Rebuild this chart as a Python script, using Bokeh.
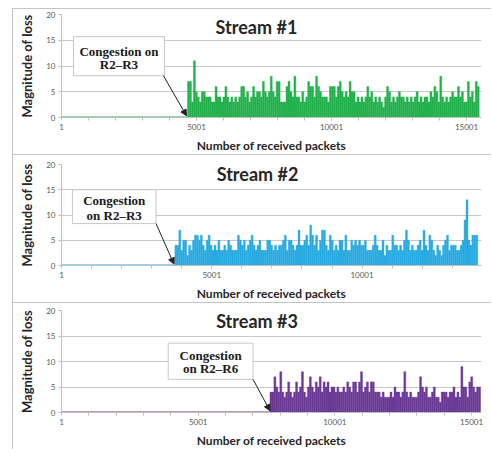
from bokeh.plotting import figure
from bokeh.layouts import column
from bokeh.models import FixedTicker, BoxAnnotation, Arrow, NormalHead, Label, Range1d, ColumnDataSource
from bokeh.embed import file_html
from bokeh.resources import INLINE

# ---------------- data ----------------
titles = ["Stream #1", "Stream #2", "Stream #3"]
callouts = [["Congestion on", "R2\u2013R3"], ["Congestion", "on R2\u2013R3"], ["Congestion", "on R2\u2013R6"]]
colors = ["#23B14D", "#29AAE1", "#6B3A96"]

# congestion onset (packet number) and packets per bar
s1_start, s1_bin = 4667, 73
s2_start, s2_bin = 3775, 65
s3_start, s3_bin = 7628, 72

s1_vals = [7,7,3,11,5,4,3,5,5,4, 4,4,3,3,6,4,4,3,4,6, 4,3,4,3,4,3,4,6,6,4, 5,3,4,6,4,5,5,4,7,5,
           4,5,8,5,4,7,7,3,3,3, 6,7,5,4,8,4,4,3,5,3, 4,7,6,6,4,8,6,5,4,4, 4,3,6,
           6,6,4,6,7,5,4,5,4,7, 5,5,3,4,3,4,3,4,6,4, 5,3,4,3,4,3,2,4,6,5, 3,4,3,4,5,4,4,3,4,3,
           4,3,4,5,3,4,3,4,4,3, 5,4,6,5,3,8,4,3,4,3, 4,5,4,4,6,4,5,3,3,7, 4,5,3,7,6]
s2_vals = [4,4,7,3,5,5,2,4,3,5, 6,6,5,6,4,3,5,6,4,3, 4,3,5,3,3,4,3,5,4,3, 3,3,6,5,4,5,3,4,5,6,
           4,3,4,5,3,3,3,5,5,4, 3,4,3,4,4,5,6,3,5,5, 4,3,4,7,4,4,5,6,4,8, 6,4,6,3,5,7,
           7,4,3,6,5,3,4,3,5,5, 3,6,3,3,5,4,5,4,5,4, 4,5,3,3,3,4,6,4,3,3, 5,2,4,3,3,6,4,4,3,4,
           3,5,7,5,3,4,3,3,4,5, 3,7,4,3,6,5,3,2,4,3, 2,4,5,6,3,4,4,4,3,3, 4,5,9,13,5,4,6,6,6]
s3_vals = [4,4,7,5,4,8,4,3,4,6, 4,3,4,6,4,5,8,4,3,5, 7,5,4,6,5,7,4,6,5,6, 4,5,5,4,5,4,4,5,4,6,
           5,4,6,6,4,6,8,4,5,6, 4,6,
           6,4,4,4,3,4,3,3,3,4, 3,5,4,4,3,4,8,4,3,4, 3,3,3,4,7,5,4,5,3,3, 4,5,3,3,2,4,4,4,3,4,
           4,5,3,4,3,9,5,5,3,6, 7,5,4,5,5]

x_ends = [15556, 13975, 15366]
y_ticks = [0, 5, 10, 15, 20]
x_label_ticks = [1, 5001, 10001, 15001]

# ---------------- layout params ----------------
panels = [
    dict(vals=s1_vals, start=s1_start, bin=s1_bin, h=146, top=5, bottom=35, left=48,
         title=(7222, 17.5), box=(445, 3815, 8.1, 15.7), txt=(2130, 12.8, 10.3),
         arrow=(3778, 8.1, 4630, 0.35)),
    dict(vals=s2_vals, start=s2_start, bin=s2_bin, h=148, top=9, bottom=31, left=46,
         title=(6523, 18.1), box=(365, 3146, 8.3, 15.0), txt=(1755, 12.9, 9.9),
         arrow=(3146, 8.3, 3742, 0.3)),
    dict(vals=s3_vals, start=s3_start, bin=s3_bin, h=147, top=7, bottom=33, left=47,
         title=(7153, 17.9), box=(3905, 7007, 6.5, 13.6), txt=(5456, 11.2, 8.6),
         arrow=(7007, 6.5, 7628, 0.35)),
]

figs = []
for i, cfg in enumerate(panels):
    p = figure(width=479, height=cfg["h"], output_backend="svg", toolbar_location=None,
               x_range=Range1d(1, x_ends[i]), y_range=Range1d(0, 20),
               min_border_left=cfg["left"], min_border_right=11,
               min_border_top=cfg["top"], min_border_bottom=cfg["bottom"],
               outline_line_color=None, background_fill_color="white", border_fill_color="white")
    p.styles = {"border-left": "1px solid #c4c4c4", "border-top": "1px solid #c4c4c4"}
    vals = cfg["vals"]
    xs = [cfg["start"] + (k + 0.5) * cfg["bin"] for k in range(len(vals))]
    src = ColumnDataSource(dict(x=xs, top=vals))
    # zero line before congestion
    p.line([1, cfg["start"]], [0, 0], line_color=colors[i], line_width=2)
    p.vbar(x="x", top="top", width=cfg["bin"], source=src, fill_color=colors[i],
           line_color=colors[i], line_width=0.4)

    # axes
    ticks = list(range(1, x_ends[i] + 1, 1000))
    p.xaxis.ticker = FixedTicker(ticks=ticks)
    p.xaxis.major_label_overrides = {t: (str(t) if t in x_label_ticks else "") for t in ticks}
    yt = FixedTicker(ticks=y_ticks)
    p.yaxis.ticker = yt
    p.ygrid.ticker = yt
    for ax in (p.xaxis[0], p.yaxis[0]):
        ax.axis_line_color = "#bfbfbf"
        ax.major_tick_line_color = "#bfbfbf"
        ax.major_tick_out = 3
        ax.major_tick_in = 0
        ax.minor_tick_line_color = None
        ax.major_label_text_font = "Lato"
        ax.major_label_text_font_size = "8px"
        ax.major_label_text_color = "#595959"
        ax.major_label_standoff = 3
        ax.axis_label_text_font = "Lato"
        ax.axis_label_text_font_style = "bold"
        ax.axis_label_text_color = "#262626"
    p.xaxis.axis_label = "Number of received packets"
    p.xaxis.axis_label_text_font_size = "12px"
    p.xaxis.axis_label_standoff = 5
    p.yaxis.axis_label = "Magnitude of loss"
    p.yaxis.axis_label_text_font_size = "13px"
    p.yaxis.axis_label_standoff = 8
    p.xgrid.grid_line_color = None
    p.ygrid.grid_line_color = "#c8c8c8"
    p.ygrid.grid_line_width = 1

    # title
    p.add_layout(Label(x=cfg["title"][0], y=cfg["title"][1], text=titles[i], text_font="Lato",
                       text_font_style="bold", text_font_size="18px", text_color="#262626",
                       text_align="center", text_baseline="middle"))
    # callout
    l, r, b, t = cfg["box"]
    p.add_layout(BoxAnnotation(left=l, right=r, bottom=b, top=t, fill_color="white", fill_alpha=1,
                               line_color="#c8c8c8", line_width=1, line_alpha=1))
    tx, ty1, ty2 = cfg["txt"]
    for txt, ty in zip(callouts[i], (ty1, ty2)):
        p.add_layout(Label(x=tx, y=ty, text=txt, text_font="Liberation Serif", text_font_style="bold",
                           text_font_size="13px", text_color="#1a1a1a",
                           text_align="center", text_baseline="middle"))
    x0, y0, x1, y1 = cfg["arrow"]
    p.add_layout(Arrow(x_start=x0, y_start=y0, x_end=x1, y_end=y1, line_color="#222222", line_width=1,
                       end=NormalHead(size=6, fill_color="#222222", line_color="#222222")))
    figs.append(p)

layout = column(*figs, spacing=0)
layout.margin = (8, 0, 0, 12)

open("out.html", "w").write(file_html(layout, INLINE))
